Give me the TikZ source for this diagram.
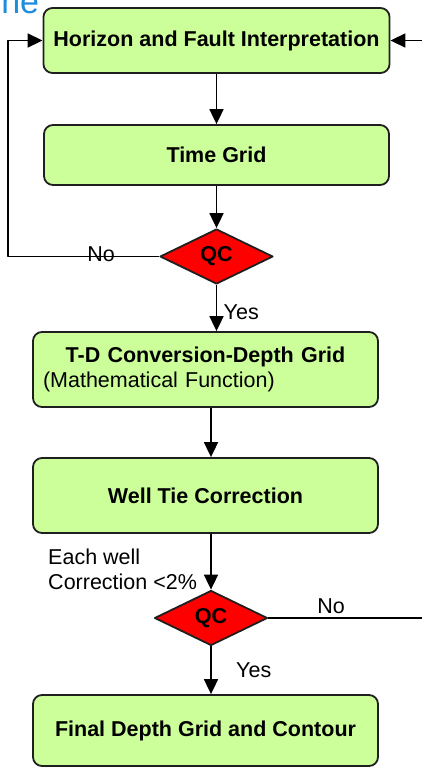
\documentclass[tikz,border=0pt]{standalone}
\usepackage{fontspec}
\setmainfont{Liberation Sans}
\usetikzlibrary{shapes.geometric,arrows.meta}
\definecolor{boxgreen}{HTML}{CCFF99}
\definecolor{qcred}{HTML}{FF0000}
\definecolor{titleblue}{HTML}{1E8DE0}
\begin{document}
\begin{tikzpicture}[x=1pt,y=-1pt,line width=1.8pt,>={Triangle[length=15pt,width=14pt]},
  line join=round,font=\fontsize{21.5}{25}\selectfont,
  procbox/.style={draw=black!88,fill=boxgreen,rounded corners=9pt,minimum width=345pt,
    inner sep=10pt,font=\fontsize{21.5}{25}\selectfont\bfseries},
  qcbox/.style={diamond,draw=black!88,fill=qcred,minimum width=113pt,minimum height=55pt,
    inner sep=0pt,font=\fontsize{21.5}{25}\selectfont\bfseries}]
  \useasboundingbox (0,0) rectangle (421,769);
  % cut title
  \node[anchor=base east,text=titleblue,inner sep=0pt,
    font=\fontsize{34}{40}\selectfont] (title) at (40,13) {ne};
  % main column
  \node[procbox,minimum height=65pt] (interp) at (216.5,40.5) {Horizon and Fault Interpretation};
  \node[procbox,minimum height=60pt] (timegrid) at (216.5,155) {Time Grid};
  \node[qcbox] (qctime) at (216.5,256.5) {QC};
  \node[procbox,minimum height=75pt,text width=325pt,align=left] (tdconv) at (205.5,369.5)
    {{\centering T-D Conversion-Depth Grid\par}\mdseries(Mathematical Function)};
  \node[procbox,minimum height=75pt] (welltie) at (205.5,495.5) {Well Tie Correction};
  \node[qcbox] (qcwell) at (211,618) {QC};
  \node[procbox,minimum height=71pt] (final) at (205.5,730.5) {Final Depth Grid and Contour};
  \coordinate (leftrail) at (8,0);
  \coordinate (rightrail) at (440,0);
  % arrows
  \draw[->] (interp) -- (timegrid);
  \draw[->] (timegrid) -- (qctime);
  \draw[->] (qctime) -- (qctime |- tdconv.north)
    node[pos=.6,anchor=west,xshift=3pt] (yestime) {Yes};
  \draw[->] (tdconv.south -| qcwell) -- (welltie.north -| qcwell);
  \draw[->] (welltie.south -| qcwell) -- (qcwell);
  \draw[->] (qcwell) -- (qcwell |- final.north)
    node[pos=.5,anchor=west,xshift=21pt] (yeswell) {Yes};
  % loops back
  \draw[->] (qctime.west) -- (qctime.west -| leftrail) |- (interp.west);
  \node (notime) at (101,254) {No};
  \draw[->] (qcwell.east) -- (qcwell.east -| rightrail) |- (interp.east);
  \node (nowell) at (331,606) {No};
  \node[anchor=west,align=left] (wellnote) at (44,569.5) {Each well\\Correction <2\%};
\end{tikzpicture}
\end{document}
